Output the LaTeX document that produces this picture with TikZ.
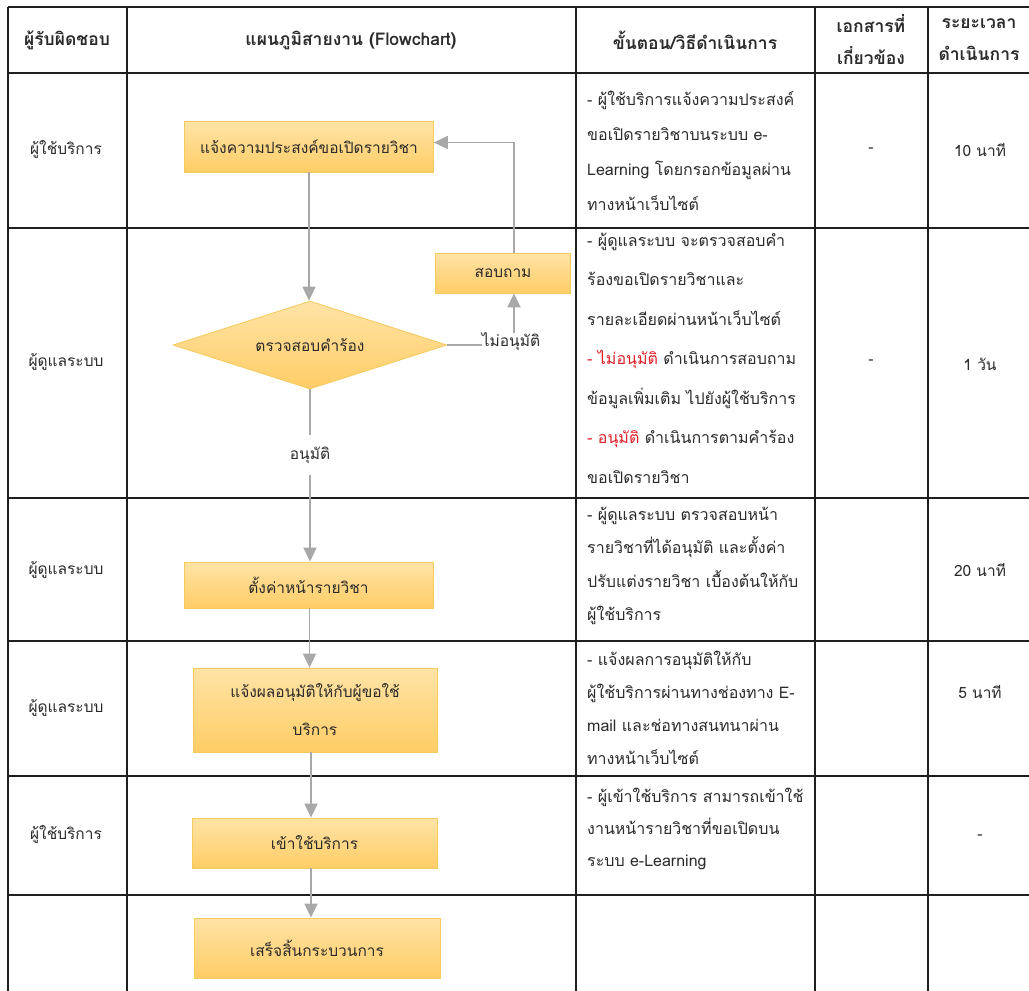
\documentclass[tikz,border=0pt]{standalone}
\usepackage{fontspec}
\newfontfamily\thai[Script=Thai]{Loma}
\usetikzlibrary{arrows.meta,shapes.geometric}
\definecolor{boxtop}{HTML}{FFE3A6}
\definecolor{boxbot}{HTML}{FFCD66}
\definecolor{boxline}{HTML}{F6CA5C}
\definecolor{conn}{HTML}{A8A8A8}
\definecolor{gridc}{HTML}{1E1E1E}
\definecolor{txt}{HTML}{2B2B2B}
\definecolor{redtxt}{HTML}{E0202A}
\begin{document}
\begin{tikzpicture}[x=1pt,y=-1pt,
  every node/.style={text=txt},
  fbox/.style={draw=boxline, line width=0.8pt, top color=boxtop, bottom color=boxbot,
    inner sep=0pt, font=\thai\fontsize{15.5}{38}\selectfont, align=center},
  decision/.style={diamond, aspect=3.11, draw=boxline, line width=0.8pt, top color=boxtop, bottom color=boxbot,
    inner sep=0pt, minimum width=274pt, minimum height=88pt, font=\thai\fontsize{15.5}{18}\selectfont},
  lbl/.style={fill=white, inner sep=0pt, font=\thai\fontsize{15.5}{18}\selectfont},
  head/.style={font=\thai\bfseries\fontsize{17.5}{32}\selectfont, align=center, inner sep=0pt},
  cell/.style={font=\thai\fontsize{15.5}{18}\selectfont, inner sep=0pt},
  desc/.style={font=\thai\fontsize{16}{#1}\selectfont, align=left, anchor=west, inner sep=0pt},
  conline/.style={draw=conn, line width=1.8pt},
  arr/.style={conline, -{Triangle[length=14pt,width=13pt]}},
  gridline/.style={draw=gridc, line width=1.5pt}
]
\useasboundingbox (0,0) rectangle (1029,991);
\clip (0,0) rectangle (1029,991);
\fill[white] (0,0) rectangle (1029,991);

% table grid
\foreach \yy in {7,73,228,498,641,776,895} \draw[gridline] (8,\yy) -- (1040,\yy);
\foreach \xx in {8,127,576,815,928} \draw[gridline] (\xx,7) -- (\xx,1000);

% header
\node[head] (h1) at (67,40) {ผู้รับผิดชอบ};
\node[head] (h2) at (351,40) {แผนภูมิสายงาน (Flowchart)};
\node[head] (h3) at (695,40) {ขั้นตอน/วิธีดำเนินการ};
\node[head] (h4) at (871,40) {เอกสารที่\\เกี่ยวข้อง};
\node[head] (h5) at (979,40) {ระยะเวลา\\ดำเนินการ};

% responsible
\node[cell] (r1) at (66,150) {ผู้ใช้บริการ};
\node[cell] (r2) at (66,362) {ผู้ดูแลระบบ};
\node[cell] (r3) at (66,570) {ผู้ดูแลระบบ};
\node[cell] (r4) at (66,708) {ผู้ดูแลระบบ};
\node[cell] (r5) at (66,835) {ผู้ใช้บริการ};

% descriptions
\node[desc=35] (c1) at (587,151) {- ผู้ใช้บริการแจ้งความประสงค์\\ขอเปิดรายวิชาบนระบบ e-\\Learning โดยกรอกข้อมูลผ่าน\\ทางหน้าเว็บไซต์};
\node[desc=39.5] (c2) at (587,358) {- ผู้ดูแลระบบ จะตรวจสอบคำ\\ร้องขอเปิดรายวิชาและ\\รายละเอียดผ่านหน้าเว็บไซต์\\{\color{redtxt}- ไม่อนุมัติ} ดำเนินการสอบถาม\\ข้อมูลเพิ่มเติม ไปยังผู้ใช้บริการ\\{\color{redtxt}- อนุมัติ} ดำเนินการตามคำร้อง\\ขอเปิดรายวิชา};
\node[desc=33.5] (c3) at (587,566) {- ผู้ดูแลระบบ ตรวจสอบหน้า\\รายวิชาที่ได้อนุมัติ และตั้งค่า\\ปรับแต่งรายวิชา เบื้องต้นให้กับ\\ผู้ใช้บริการ};
\node[desc=33] (c4) at (587,708) {- แจ้งผลการอนุมัติให้กับ\\ผู้ใช้บริการผ่านทางช่องทาง E-\\mail และช่อทางสนทนาผ่าน\\ทางหน้าเว็บไซต์};
\node[desc=32] (c5) at (587,829) {- ผู้เข้าใช้บริการ สามารถเข้าใช้\\งานหน้ารายวิชาที่ขอเปิดบน\\ระบบ e-Learning};

% documents
\node[cell] (d1) at (871,150) {-};
\node[cell] (d2) at (871,362) {-};

% durations
\node[cell] (t1) at (980,150) {10 นาที};
\node[cell] (t2) at (980,364) {1 วัน};
\node[cell] (t3) at (980,570) {20 นาที};
\node[cell] (t4) at (980,692) {5 นาที};
\node[cell] (t5) at (980,837) {-};

% flowchart
\node[fbox, minimum width=249pt, minimum height=51pt] (n1) at (309,146.5) {แจ้งความประสงค์ขอเปิดรายวิชา};
\node[decision] (dc) at (310,345) {ตรวจสอบคำร้อง};
\node[fbox, minimum width=135pt, minimum height=40pt] (ask) at (503,273) {สอบถาม};
\node[lbl] (no) at (511,342) {ไม่อนุมัติ};
\node[lbl, minimum height=40pt] (yes) at (310,455) {อนุมัติ};
\node[fbox, minimum width=249pt, minimum height=46pt] (n3) at (308.5,585) {ตั้งค่าหน้ารายวิชา};
\node[fbox, minimum width=244pt, minimum height=84pt] (n4) at (315,710) {แจ้งผลอนุมัติให้กับผู้ขอใช้\\บริการ};
\node[fbox, minimum width=245pt, minimum height=50pt] (n5) at (314.5,843) {เข้าใช้บริการ};
\node[fbox, minimum width=246pt, minimum height=60pt] (n6) at (317,948) {เสร็จสิ้นกระบวนการ};

\draw[arr] (n1.south) -- (n1.south |- dc.north);
\draw[conline] (dc.east) -- (dc.east -| no.west);
\draw[arr] ([xshift=3pt]no.north) -- ([xshift=3pt]no.north |- ask.south);
\draw[arr] ([xshift=3pt]no.north |- ask.north) |- ([yshift=4pt]n1.east);
\draw[conline] (dc.south) -- (yes.north);
\draw[arr] (yes.south) -- (yes.south |- n3.north);
\draw[arr] ([xshift=1pt]n3.south) -- ([xshift=1pt]n3.south |- n4.north);
\draw[arr] (n4.south -| yes.south) ++(1pt,0) -- ([xshift=1pt]n5.north -| yes.south);
\draw[arr] (n5.south -| yes.south) ++(1pt,0) -- ([xshift=1pt]n6.north -| yes.south);
\end{tikzpicture}
\end{document}
